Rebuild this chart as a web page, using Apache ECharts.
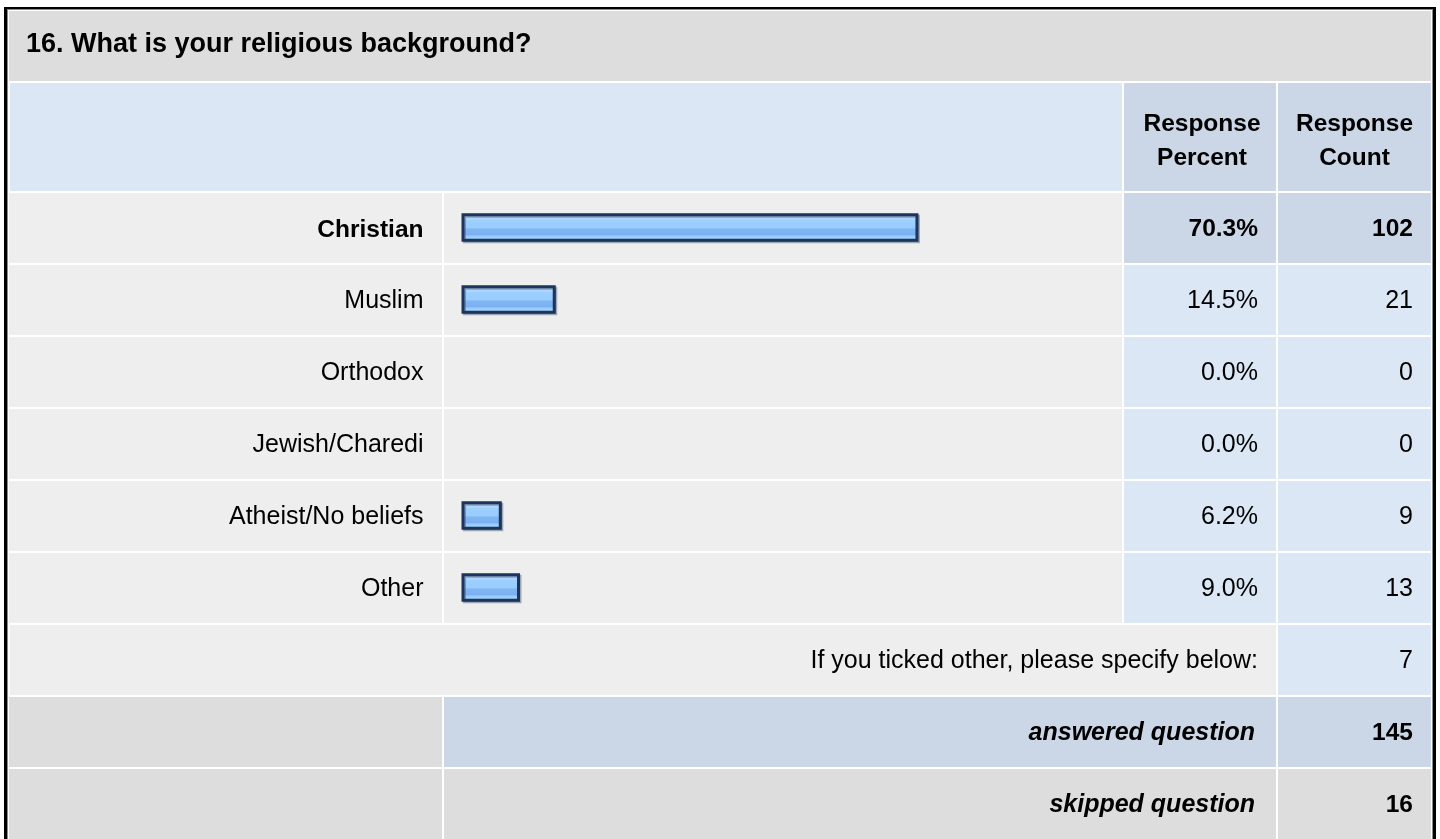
<!DOCTYPE html>
<html>
<head>
<meta charset="utf-8">
<script src="https://cdn.jsdelivr.net/npm/echarts@6/dist/echarts.min.js"></script>
<style>
  html, body { margin: 0; padding: 0; background: #ffffff; }
  #chart { width: 1440px; height: 839px; }
</style>
</head>
<body>
<div id="chart"></div>
<script>
// ---- data ----
const questionTitle = '16. What is your religious background?';
const columnHeaders = ['Response\nPercent', 'Response\nCount'];
const categories = ['Christian', 'Muslim', 'Orthodox', 'Jewish/Charedi', 'Atheist/No beliefs', 'Other'];
const percents = [70.3, 14.5, 0.0, 0.0, 6.2, 9.0];
const counts = [102, 21, 0, 0, 9, 13];
const otherSpecifyLabel = 'If you ticked other, please specify below:';
const otherSpecifyCount = 7;
const answeredLabel = 'answered question';
const answeredCount = 145;
const skippedLabel = 'skipped question';
const skippedCount = 16;

// ---- layout / style ----
const FONT = 'Arial, "Liberation Sans", Helvetica, sans-serif';
const C_GREY = '#dddddd', C_ROW = '#eeeeee', C_LBLUE = '#dce7f5', C_DBLUE = '#cbd7e6';
const colLabel = [9, 442], colBar = [444, 1122], colPct = [1124, 1276], colCnt = [1278, 1431];
const rowTop0 = 193, rowPitch = 72, rowH = 70;
const maxIdx = percents.indexOf(Math.max.apply(null, percents));

const chart = echarts.init(document.getElementById('chart'), null, { renderer: 'canvas' });

function rect(x0, x1, y0, h, fill, z) {
  return { type: 'rect', shape: { x: x0, y: y0, width: x1 - x0, height: h }, style: { fill: fill }, z: z || 1, silent: true };
}
function text(str, x, y, align, opts) {
  opts = opts || {};
  return {
    type: 'text', x: x, y: y, z: 100, silent: true,
    style: {
      text: str, fill: '#000', font: (opts.style || '') + ' ' + (opts.weight || 'normal') + ' ' + (opts.size || 25) + 'px ' + FONT,
      align: align, verticalAlign: 'middle', lineHeight: opts.lineHeight
    }
  };
}

const TY = 1.5; // text baseline nudge
const g = [];
// outer border
g.push({ type: 'rect', shape: { x: 4, y: 7, width: 1432, height: 900 }, style: { fill: '#000' }, z: 0, silent: true });
g.push({ type: 'rect', shape: { x: 7, y: 9, width: 1426, height: 900 }, style: { fill: '#8a8a8a' }, z: 0, silent: true });
g.push({ type: 'rect', shape: { x: 8, y: 10, width: 1424, height: 900 }, style: { fill: '#ffffff' }, z: 0, silent: true });
// title row
g.push(rect(9, 1431, 11, 70, C_GREY));
g.push(text(questionTitle, 26, 45, 'left', { weight: 'bold', size: 27 }));
// header row
g.push(rect(10, colBar[1], 83, 108, C_LBLUE));
g.push(rect(colPct[0], colPct[1], 83, 108, C_DBLUE));
g.push(rect(colCnt[0], colCnt[1], 83, 108, C_DBLUE));
g.push(text(columnHeaders[0], (colPct[0] + colPct[1]) / 2 + 2, 141.5, 'center', { weight: 'bold', size: 24.5, lineHeight: 34 }));
g.push(text(columnHeaders[1], (colCnt[0] + colCnt[1]) / 2, 141.5, 'center', { weight: 'bold', size: 24.5, lineHeight: 34 }));

// category rows
categories.forEach(function (c, i) {
  const y0 = rowTop0 + i * rowPitch;
  const isMax = i === maxIdx;
  const cellFill = isMax ? C_DBLUE : C_LBLUE;
  g.push(rect(colLabel[0], colLabel[1], y0, rowH, C_ROW));
  g.push(rect(colBar[0], colBar[1], y0, rowH, C_ROW));
  g.push(rect(colPct[0], colPct[1], y0, rowH, cellFill));
  g.push(rect(colCnt[0], colCnt[1], y0, rowH, cellFill));
  const yc = y0 + rowH / 2 + TY;
  const o = isMax ? { weight: 'bold', size: 24.5 } : {};
  g.push(text(percents[i].toFixed(1) + '%', 1258, yc, 'right', o));
  g.push(text(String(counts[i]), 1413, yc, 'right', o));
});

// other-specify row
let y6 = rowTop0 + categories.length * rowPitch;
g.push(rect(10, colPct[1], y6, rowH, C_ROW));
g.push(rect(colCnt[0], colCnt[1], y6, rowH, C_LBLUE));
g.push(text(otherSpecifyLabel, 1258, y6 + rowH / 2 + TY, 'right'));
g.push(text(String(otherSpecifyCount), 1413, y6 + rowH / 2 + TY, 'right'));

// answered row
let y7 = y6 + rowPitch;
g.push(rect(colLabel[0], colLabel[1], y7, rowH, C_GREY));
g.push(rect(colBar[0], colPct[1], y7, rowH, C_DBLUE));
g.push(rect(colCnt[0], colCnt[1], y7, rowH, C_DBLUE));
g.push(text(answeredLabel, 1255, y7 + rowH / 2 + TY, 'right', { style: 'italic', weight: 'bold', size: 25 }));
g.push(text(String(answeredCount), 1413, y7 + rowH / 2 + TY, 'right', { weight: 'bold', size: 24.5 }));

// skipped row
let y8 = y7 + rowPitch;
g.push(rect(colLabel[0], colLabel[1], y8, rowH + 10, C_GREY));
g.push(rect(colBar[0], colPct[1], y8, rowH + 10, C_GREY));
g.push(rect(colCnt[0], colCnt[1], y8, rowH + 10, C_GREY));
g.push(text(skippedLabel, 1255, y8 + rowH / 2 + TY, 'right', { style: 'italic', weight: 'bold', size: 25 }));
g.push(text(String(skippedCount), 1413, y8 + rowH / 2 + TY, 'right', { weight: 'bold', size: 24.5 }));

const barFill = new echarts.graphic.LinearGradient(0, 0, 0, 1, [
  { offset: 0, color: '#d8edff' },
  { offset: 0.14, color: '#b8dcff' },
  { offset: 0.26, color: '#9dcfff' },
  { offset: 0.5, color: '#99ccff' },
  { offset: 0.56, color: '#80b7f2' },
  { offset: 0.76, color: '#7ab0ef' },
  { offset: 0.8, color: '#99ccff' },
  { offset: 1, color: '#a9d4ff' }
]);

chart.setOption({
  animation: false,
  backgroundColor: '#ffffff',
  graphic: { elements: g },
  grid: { left: 461.5, top: 191.5, width: 650, height: 432, containLabel: false, z: 20 },
  xAxis: { type: 'value', min: 0, max: 100, show: false },
  yAxis: {
    type: 'category', inverse: true, data: categories, z: 50,
    axisLine: { show: false }, axisTick: { show: false }, splitLine: { show: false },
    axisLabel: {
      margin: 38, color: '#000', fontSize: 25, fontFamily: FONT, padding: [4, 0, 0, 0],
      formatter: function (v, i) { return i === maxIdx ? '{b|' + v + '}' : v; },
      rich: { b: { fontWeight: 'bold', fontSize: 24.5, fontFamily: FONT, color: '#000', padding: [2, 0, 0, 0] } }
    }
  },
  series: [{
    type: 'bar', z: 30, barWidth: 28.5,
    data: percents.map(function (v) {
      return v > 0 ? v : { value: v, itemStyle: { opacity: 0, borderWidth: 0 } };
    }),
    itemStyle: {
      color: barFill, borderColor: '#1c355a', borderWidth: 3,
      shadowColor: 'rgba(60,80,110,0.45)', shadowOffsetX: 1.5, shadowOffsetY: 1.5, shadowBlur: 0
    },
    emphasis: { disabled: true }
  }]
});
</script>
</body>
</html>
